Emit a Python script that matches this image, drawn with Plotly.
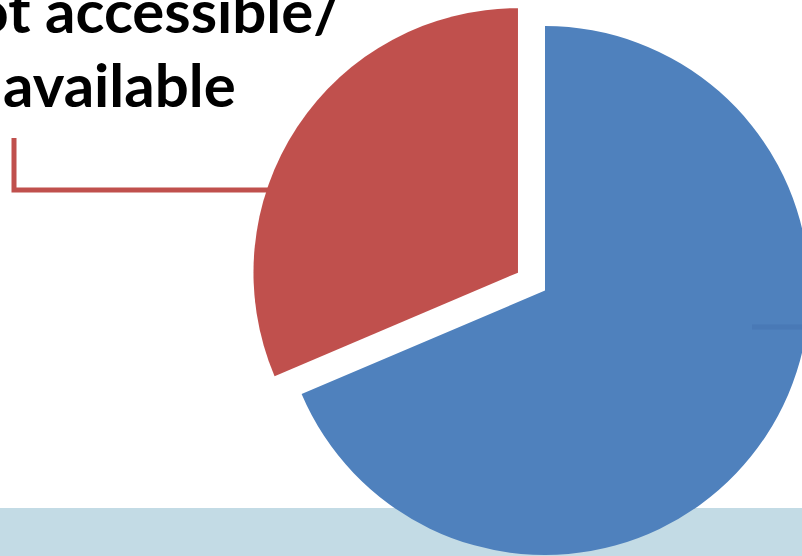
import plotly.graph_objects as go

# ---- data ----
labels = ["Accessible/ available", "Not accessible/ available"]
values = [68.6, 31.4]
colors = ["#4f81bd", "#c0504d"]
pulls = [0, 0.1225]
label_line1 = "Not accessible/"
label_line2 = "available"

# ---- geometry (page pixels of the visible 802x556 window) ----
W, H = 900, 650          # full figure size
T = 50                    # figure is shifted up by T px in the page
cx, cy, r = 545, 290.5, 264.5
maxpull = max(pulls)
half = r * (1 + maxpull)

def px(x):
    return x / W

def py(y):
    return 1 - (y + T) / H

fig = go.Figure()
fig.add_trace(go.Pie(
    labels=labels, values=values, sort=False, direction="clockwise", rotation=0,
    pull=pulls, marker=dict(colors=colors, line=dict(width=0)),
    textinfo="none", hoverinfo="label+percent", showlegend=False,
    domain=dict(x=[px(cx - half), px(cx + half)], y=[py(cy + half), py(cy - half)]),
))

shapes = [
    dict(type="rect", xref="paper", yref="paper", x0=0, x1=1, y0=0, y1=py(508),
         fillcolor="#c3dbe5", line=dict(width=0), layer="below"),
    dict(type="path", xref="paper", yref="paper",
         path=f"M {px(14)},{py(138)} L {px(14)},{py(190)} L {px(285)},{py(190)}",
         line=dict(color="#c0504d", width=5), layer="below"),
    dict(type="line", xref="paper", yref="paper", x0=px(752), x1=1, y0=py(327), y1=py(327),
         line=dict(color="#4979b6", width=5), layer="above"),
]

font = dict(family="Lato", size=60, color="black")
annotations = [
    dict(text=f"<b>{label_line1}</b>", x=px(343), y=py(10), xref="paper", yref="paper",
         xanchor="right", yanchor="middle", showarrow=False, font=font),
    dict(text=f"<b>{label_line2}</b>", x=px(1), y=py(84), xref="paper", yref="paper",
         xanchor="left", yanchor="middle", showarrow=False, font=font),
]

fig.update_layout(
    width=W, height=H, autosize=False,
    margin=dict(l=0, r=0, t=0, b=0, pad=0),
    paper_bgcolor="white", plot_bgcolor="white",
    shapes=shapes, annotations=annotations,
)

post = (
    "var d=document.getElementById('{plot_id}');"
    "d.style.position='absolute';d.style.left='0px';d.style.top='-" + str(T) + "px';"
    "document.body.style.overflow='hidden';document.body.style.margin='0';"
    "document.documentElement.style.overflow='hidden';"
)
fig.write_html("out.html", post_script=post, config=dict(displayModeBar=False))
